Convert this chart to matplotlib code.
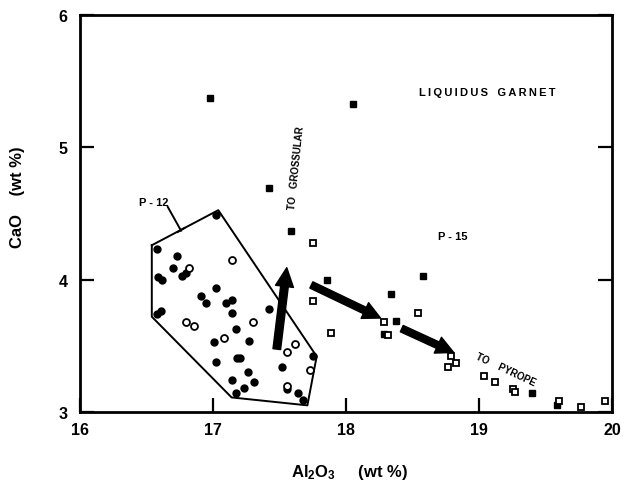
import matplotlib
matplotlib.use("Agg")
import matplotlib.pyplot as plt

plt.rcParams["font.family"] = ["Liberation Sans", "DejaVu Sans"]
plt.rcParams["font.weight"] = "bold"
plt.rcParams["mathtext.fontset"] = "custom"
plt.rcParams["mathtext.rm"] = "Liberation Sans:bold"
plt.rcParams["mathtext.default"] = "rm"

# P-12 analyses (circles)
p12_solid_al = [17.02, 16.58, 16.73, 16.70, 16.59, 16.62, 16.77, 16.80, 17.02, 16.91,
                16.95, 17.10, 17.14, 17.14, 16.58, 16.61, 17.17, 17.01, 17.27, 17.02,
                17.18, 17.20, 17.26, 17.14, 17.23, 17.17, 17.42, 17.75, 17.52, 17.31,
                17.56, 17.64, 17.68]
p12_solid_ca = [4.49, 4.23, 4.18, 4.09, 4.02, 4.00, 4.03, 4.05, 3.94, 3.88,
                3.82, 3.82, 3.85, 3.75, 3.74, 3.76, 3.63, 3.53, 3.54, 3.38,
                3.41, 3.41, 3.30, 3.24, 3.18, 3.14, 3.78, 3.42, 3.34, 3.23,
                3.17, 3.14, 3.09]
p12_open_al = [16.82, 17.14, 16.80, 16.86, 17.08, 17.30, 17.62, 17.56, 17.73, 17.56]
p12_open_ca = [4.09, 4.15, 3.68, 3.65, 3.56, 3.68, 3.51, 3.45, 3.32, 3.20]

# P-15 analyses (squares)
p15_solid_al = [16.98, 18.05, 17.42, 17.59, 17.86, 18.58, 18.34, 18.38, 18.29, 19.40, 19.59]
p15_solid_ca = [5.37, 5.33, 4.69, 4.37, 4.00, 4.03, 3.89, 3.69, 3.59, 3.14, 3.05]
p15_open_al = [17.75, 17.75, 17.89, 18.29, 18.32, 18.54, 18.79, 18.77, 18.83, 19.04,
               19.12, 19.26, 19.27, 19.60, 19.77, 19.95]
p15_open_ca = [4.28, 3.84, 3.60, 3.68, 3.58, 3.75, 3.42, 3.34, 3.37, 3.27,
               3.23, 3.17, 3.15, 3.08, 3.04, 3.08]

# outline of the P-12 field
field_al = [16.54, 17.04, 17.78, 17.71, 17.14, 16.54, 16.54]
field_ca = [4.26, 4.525, 3.42, 3.05, 3.11, 3.72, 4.26]

# trend arrows: (tail, tip)
arrows = [
    ((17.48, 3.475), (17.555, 4.09)),
    ((17.74, 3.96), (18.26, 3.71)),
    ((18.42, 3.63), (18.81, 3.45)),
]

x_ticks = [16, 17, 18, 19, 20]
y_ticks = [3, 4, 5, 6]


def spaced(s):
    """Letter-spaced caption text."""
    return "\u2009".join(s)


fig = plt.figure(figsize=(6.25, 4.85), dpi=100)
ax = fig.add_axes([0.128, 0.1485, 0.851, 0.8185])
ax.set_xlim(16, 20)
ax.set_ylim(3, 6)

ax.plot(field_al, field_ca, color="black", lw=1.4, zorder=2)

ax.plot(p12_solid_al, p12_solid_ca, "o", ms=5, mfc="black", mec="black", zorder=3)
ax.plot(p12_open_al, p12_open_ca, "o", ms=5, mfc="white", mec="black", mew=1.3, zorder=3)
ax.plot(p15_solid_al, p15_solid_ca, "s", ms=4.3, mfc="black", mec="black", zorder=3)
ax.plot(p15_open_al, p15_open_ca, "s", ms=4.3, mfc="white", mec="black", mew=1.3, zorder=3)

styles = [
    "simple,head_length=1.35,head_width=1.3,tail_width=0.55",
    "simple,head_length=1.25,head_width=1.25,tail_width=0.5",
    "simple,head_length=1.25,head_width=1.25,tail_width=0.5",
]
for (tail, tip), st in zip(arrows, styles):
    ax.annotate("", xy=tip, xytext=tail,
                arrowprops=dict(arrowstyle=st, color="black", shrinkA=0, shrinkB=0,
                                mutation_scale=10), zorder=4)

# P-12 leader line
ax.plot([16.66, 16.76], [4.55, 4.37], color="black", lw=1.4)
ax.plot([16.735, 16.785], [4.36, 4.39], color="black", lw=1.4)

ax.text(16.556, 4.59, "P - 12", fontsize=8, ha="center", va="center")
ax.text(18.80, 4.33, "P - 15", fontsize=8, ha="center", va="center")
ax.text(19.06, 5.415, spaced("LIQUIDUS") + "   " + spaced("GARNET"), fontsize=8,
        ha="center", va="center")
ax.text(17.63, 4.85, "TO   GROSSULAR", fontsize=7, ha="center", va="center", rotation=84)
ax.text(19.20, 3.325, "TO    PYROPE", fontsize=7, ha="center", va="center", rotation=-25)

ax.set_xticks(x_ticks)
ax.set_yticks(y_ticks)
ax.set_xticklabels([str(v) for v in x_ticks])
ax.set_yticklabels([str(v) for v in y_ticks])
ax.tick_params(direction="in", length=10, width=1.6, labelsize=11.5, pad=7,
               right=True, top=False)
ax.tick_params(axis="y", pad=9)
for s in ax.spines.values():
    s.set_linewidth(2)

ax.text(-0.117, 0.544, "CaO    (wt %)", transform=ax.transAxes, rotation=90,
        ha="center", va="center", fontsize=12)
ax.text(0.506, -0.149, r"Al$_2$O$_3$     (wt %)", transform=ax.transAxes,
        ha="center", va="center", fontsize=12)

fig.savefig("out.png", dpi=100)
